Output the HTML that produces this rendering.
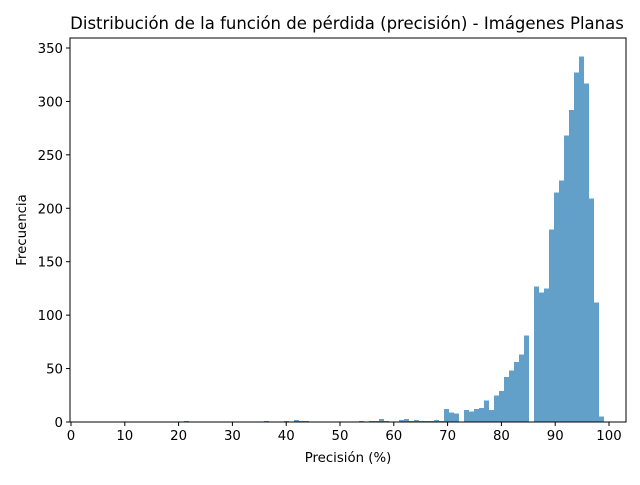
<!DOCTYPE html>
<html><head><meta charset="utf-8"><style>
body{margin:0;background:#fff}
svg text{font-family:"DejaVu Sans","Liberation Sans",sans-serif;fill:#000}
</style></head><body>
<svg id="chart" width="640" height="480">
<text x="347" y="29" font-size="16.5" text-anchor="middle">Distribución de la función de pérdida (precisión) - Imágenes Planas</text>
<g id="bars" shape-rendering="crispEdges"></g>
<g id="axes"></g>
<text x="348" y="462" font-size="13.3" text-anchor="middle">Precisión (%)</text>
<text transform="translate(26,230) rotate(-90)" font-size="13.3" text-anchor="middle">Frecuencia</text>
</svg>
<script>
const binStart = 5.93;
const binWidth = 0.93;
const counts = [0,0,0,0,0,0,0,0,0,0, 0,0,0,0,0,0,1,0,0,0, 0,0,0,0,0,0,0,0,0,0, 0,0,1,0,0,0,1,0,2,1, 1,0,0,0,0,0,0,0,0,0, 0,1,0,1,1,3,1,0,0,2, 3,1,2,1,1,1,2,1,12,9, 8,0,11,10,12,13,20,11,25,29, 42,48,56,63,81,0,127,121,125,180, 215,226,268,292,327,342,317,209,112,5];
const xTicks = [0,10,20,30,40,50,60,70,80,90,100];
const yTicks = [0,50,100,150,200,250,300,350];
const L=70,R=626,T=38,B=422;
const X=v=>71+v*5.38;
const Y=v=>422-v*1.0686;
const NS="http://www.w3.org/2000/svg";
const bars=document.getElementById('bars');
counts.forEach((c,i)=>{
  if(c<=0)return;
  const r=document.createElementNS(NS,'rect');
  const x0=Math.round(X(binStart+i*binWidth)+0.6),x1=Math.round(X(binStart+(i+1)*binWidth)+0.6);
  r.setAttribute('x',x0);r.setAttribute('width',x1-x0);
  r.setAttribute('y',Y(c));r.setAttribute('height',Y(0)-Y(c));
  r.setAttribute('fill','#62a0ca');
  
  
  bars.appendChild(r);
});
const ax=document.getElementById('axes');
function el(tag,attrs,txt){const e=document.createElementNS(NS,tag);for(const k in attrs)e.setAttribute(k,attrs[k]);if(txt!=null)e.textContent=txt;ax.appendChild(e);return e;}
const frame=el('rect',{x:L,y:T,width:R-L,height:B-T,fill:'none',stroke:'#000','stroke-width':1});


xTicks.forEach(t=>{
  const tk=el('line',{x1:X(t),x2:X(t),y1:B,y2:B+4,stroke:'#000'});
  
  
  const lb=el('text',{x:X(t),y:B+18,'font-size':13.3,'text-anchor':'middle'},t);
  
  
});
yTicks.forEach(t=>{
  const tk=el('line',{x1:L-4,x2:L,y1:Y(t),y2:Y(t),stroke:'#000'});
  
  
  const lb=el('text',{x:L-7,y:Y(t)+5,'font-size':13.3,'text-anchor':'end'},t);
  
  
});
</script>
</body></html>
